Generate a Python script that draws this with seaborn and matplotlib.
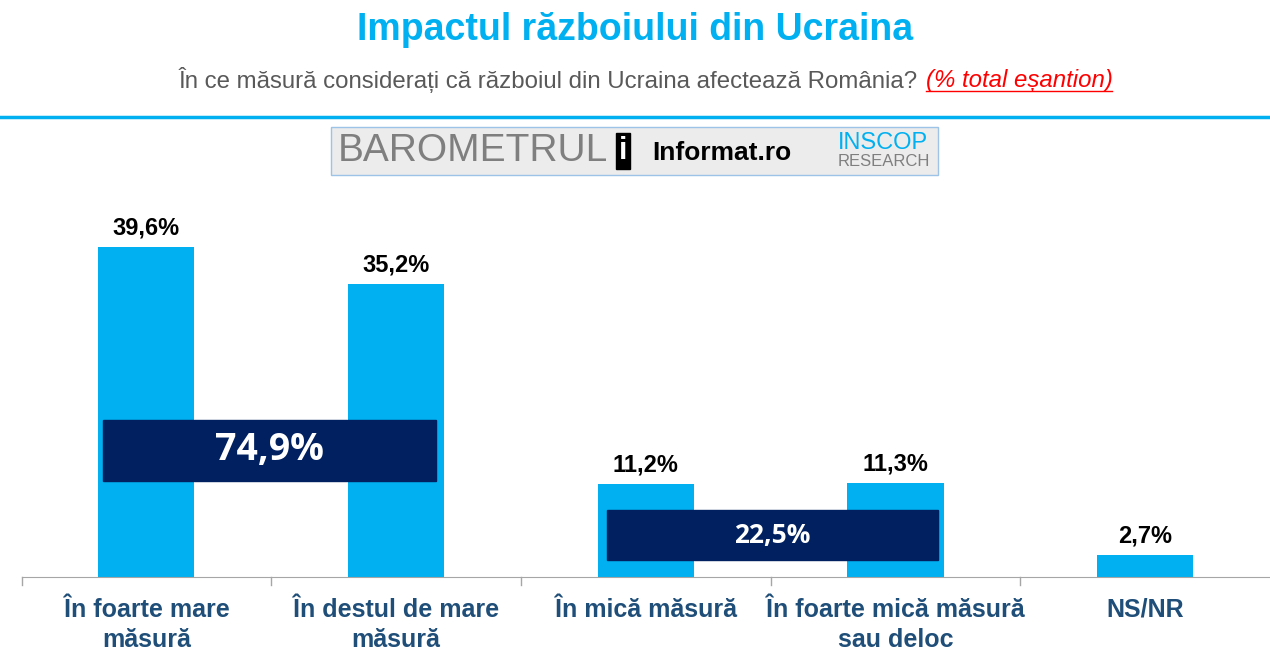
import matplotlib
matplotlib.use("Agg")
import matplotlib.pyplot as plt
import seaborn as sns
import pandas as pd
from matplotlib.patches import Rectangle

plt.rcParams["font.family"] = "Liberation Sans"

# ---------- Data ----------
categories = ["În foarte mare\nmăsură", "În destul de mare\nmăsură", "În mică măsură",
              "În foarte mică măsură\nsau deloc", "NS/NR"]
values = [39.6, 35.2, 11.2, 11.3, 2.7]
value_labels = ["39,6%", "35,2%", "11,2%", "11,3%", "2,7%"]
group_labels = ["74,9%", "22,5%"]

BLUE = "#00B0F0"
NAVY = "#002060"
TICK = "#1F4E79"

df = pd.DataFrame({"cat": categories, "val": values})

fig = plt.figure(figsize=(12.7, 6.61), dpi=100)
ax = fig.add_axes([0.017, 0.127, 0.983, 0.585])
sns.barplot(data=df, x="cat", y="val", color=BLUE, width=0.385, saturation=1, ax=ax)

ax.set_xlim(-0.5, 4.5)
ax.set_ylim(0, 46.4)
for i, (v, lab) in enumerate(zip(values, value_labels)):
    ax.text(i, v + 0.9, lab, ha="center", va="bottom", fontsize=17, fontweight="bold", color="black")

# group summary boxes
ax.add_patch(Rectangle((-0.172, 11.5), 1.332, 7.35, color=NAVY, zorder=3))
ax.text(0.494, 15.2, group_labels[0], ha="center", va="center", color="white",
        fontsize=27, fontweight="bold", family="Open Sans", zorder=4)
ax.add_patch(Rectangle((1.844, 2.04), 1.328, 6.0, color=NAVY, zorder=3))
ax.text(2.508, 5.0, group_labels[1], ha="center", va="center", color="white",
        fontsize=19, fontweight="bold", family="Open Sans", zorder=4)

for s in ["top", "right", "left"]:
    ax.spines[s].set_visible(False)
ax.spines["bottom"].set_color("#A6A6A6")
ax.set_yticks([])
ax.set_xlabel("")
ax.set_ylabel("")
ax.tick_params(axis="x", length=0, pad=15)
for t in ax.get_xticklabels():
    t.set_fontsize(18)
    t.set_fontweight("bold")
    t.set_color(TICK)
    t.set_verticalalignment("top")
    t.set_linespacing(1.3)
for b in [-0.5, 0.5, 1.5, 2.5, 3.5]:
    ax.plot([b, b], [0, -1.0], color="#A6A6A6", lw=1, clip_on=False)

# header
fig.text(0.5, 1 - 30 / 661, "Impactul războiului din Ucraina", ha="center", va="center",
         fontsize=27, fontweight="bold", color=BLUE)
fig.text(918 / 1270, 1 - 80 / 661, "În ce măsură considerați că războiul din Ucraina afectează România?",
         ha="right", va="center", fontsize=17.3, color="#595959")
fig.text(926 / 1270, 1 - 80 / 661, "(% total eșantion)", ha="left", va="center",
         fontsize=17.3, color="red", style="italic")
fig.add_artist(plt.Line2D([926 / 1270, 1112 / 1270], [1 - 91 / 661] * 2, color="red", lw=1))
fig.add_artist(plt.Line2D([0, 1], [1 - 117 / 661] * 2, color=BLUE, lw=2.5))

# logo banner
fig.add_artist(Rectangle((331 / 1270, 1 - 175 / 661), 607 / 1270, 48 / 661,
                         transform=fig.transFigure, facecolor="#ECECEC", edgecolor="#9DC3E6", lw=1))
fig.text(338 / 1270, 1 - 151 / 661, "BAROMETRUL", ha="left", va="center",
         fontsize=28, color="#7F7F7F")
fig.text(619 / 1270, 1 - 151 / 661, "i", ha="left", va="center", fontsize=22,
         fontweight="bold", color="white",
         bbox=dict(boxstyle="square,pad=0.1", fc="black", ec="black"))
fig.text(652 / 1270, 1 - 153 / 661, "Informat.ro", ha="left", va="center",
         fontsize=19, fontweight="bold", color="black")
fig.text(838 / 1270, 1 - 143 / 661, "INSCOP", ha="left", va="center", fontsize=17, color=BLUE)
fig.text(838 / 1270, 1 - 162 / 661, "RESEARCH", ha="left", va="center", fontsize=12, color="#7F7F7F")

fig.savefig("out.png", dpi=100)
